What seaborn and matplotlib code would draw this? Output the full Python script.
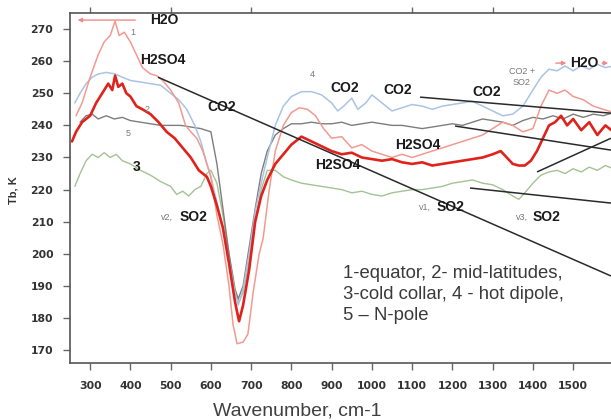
import matplotlib
matplotlib.use("Agg")
import matplotlib.pyplot as plt
import seaborn as sns
import pandas as pd

# ---------------- data ----------------
wn1 = [265, 280, 300, 320, 335, 350, 362, 372, 385, 400, 415, 430, 450, 465, 480, 500, 520, 537, 550, 565, 580,
       600, 615, 630, 645, 655, 665, 680, 692, 705, 720, 730, 745, 760, 780, 800, 820, 840, 860, 880, 900, 925,
       950, 975, 1000, 1025, 1050, 1075, 1100, 1125, 1150, 1175, 1200, 1225, 1250, 1275, 1300, 1325, 1350, 1375,
       1400, 1420, 1440, 1460, 1480, 1500, 1525, 1550, 1575, 1600]
t1 = [243, 247, 255, 262, 266, 268, 272.5, 268, 269, 266, 262, 258, 256, 255.5, 254, 251, 247, 240, 238, 236, 232,
      224, 212, 203, 190, 178, 172, 172.5, 175, 188, 200, 205, 220, 232, 240, 244, 245.5, 245, 243, 239, 236, 236.5,
      233, 234, 232, 231, 230, 231, 230, 231, 232, 233, 234, 235, 236, 237, 239, 241, 240, 238,
      239, 246, 251, 250, 251, 249, 248, 246, 245, 244]

wn2 = [255, 265, 280, 300, 315, 330, 345, 355, 362, 370, 380, 390, 400, 415, 430, 450, 470, 490, 510, 530, 550, 570,
       590, 600, 615, 630, 645, 660, 670, 680, 695, 710, 725, 740, 760, 780, 800, 825, 850, 875, 900, 925, 950, 975,
       1000, 1025, 1050, 1075, 1100, 1125, 1150, 1175, 1200, 1225, 1250, 1275, 1300, 1320, 1335, 1350, 1365, 1380,
       1395, 1410, 1425, 1440, 1455, 1470, 1485, 1500, 1520, 1540, 1560, 1580, 1600]
t2 = [235, 238, 241, 243, 247, 250, 253, 251, 255.5, 252, 253, 250, 249, 246, 245, 243.5, 241, 238, 236, 233, 230, 226,
      224, 221, 215, 208, 197, 185, 179, 184, 195, 210, 218, 223, 228, 231, 234, 236.5, 235, 233.5, 232, 231, 231.5, 230,
      229.5, 229, 229.5, 228.5, 228, 228.5, 227.5, 228, 228.5, 229, 229.5, 230, 231, 232, 230, 228, 227.5, 227.5,
      229, 232, 236, 240, 241, 243, 240, 242, 238.5, 241, 237, 240, 238]

wn3 = [262, 275, 290, 305, 320, 335, 350, 365, 380, 400, 425, 450, 475, 500, 515, 530, 545, 560, 575, 590, 600, 615,
       630, 645, 660, 670, 680, 695, 710, 725, 740, 760, 780, 800, 825, 850, 875, 900, 925, 950, 975, 1000, 1025, 1050,
       1075, 1100, 1125, 1150, 1175, 1200, 1225, 1250, 1275, 1300, 1325, 1350, 1365, 1380, 1400, 1420, 1440, 1460,
       1480, 1500, 1520, 1540, 1560, 1580, 1600]
t3 = [221, 225, 229, 231, 230, 231.5, 230, 231, 229, 228, 226, 224.5, 222.5, 221, 218.5, 219.5, 218, 220, 221, 225, 226,
      222, 212, 200, 188, 185, 188, 198, 210, 220, 226, 226, 224, 223, 222, 221.5, 221, 220.5, 220, 219, 219.5, 218.5,
      218, 219, 219.5, 220, 220, 220.5, 221, 222, 222.5, 223, 222, 221.5, 220, 218, 217, 219, 222, 224.5, 225.5, 226,
      225, 226.5, 225.5, 227, 226, 227.5, 226.5]

wn4 = [262, 275, 290, 305, 320, 340, 362, 380, 400, 425, 450, 475, 500, 520, 540, 560, 575, 590, 600, 615, 630, 645,
       660, 668, 680, 695, 710, 725, 740, 760, 780, 800, 825, 850, 875, 900, 915, 930, 950, 965, 985, 1000, 1025, 1050,
       1075, 1100, 1125, 1150, 1175, 1200, 1225, 1250, 1275, 1300, 1325, 1350, 1375, 1400, 1420, 1440, 1460, 1480,
       1500, 1520, 1540, 1560, 1580, 1600]
t4 = [247, 250, 253, 255, 256, 256.5, 256, 255, 254, 253.5, 253, 252.5, 250, 248, 245, 240, 235, 228, 224, 216, 208, 198,
      188, 184, 189, 200, 213, 222, 230, 240, 246, 249, 250.5, 250.5, 249.5, 247, 244.5, 246, 248.5, 245, 247, 249.5,
      247, 244.5, 245.5, 246.5, 246, 245, 246, 246.5, 247, 247.5, 246, 244.5, 243, 243.5, 246, 251, 255, 257.5, 257,
      258.5, 257, 258.5, 257.5, 259, 258, 258.5]

wn5 = [275, 290, 305, 320, 340, 360, 380, 400, 425, 450, 475, 500, 525, 550, 575, 600, 615, 630, 645, 660, 668, 680,
       695, 710, 725, 740, 760, 780, 800, 825, 850, 875, 900, 925, 950, 975, 1000, 1025, 1050, 1075, 1100, 1125, 1150,
       1175, 1200, 1225, 1250, 1275, 1300, 1325, 1350, 1375, 1400, 1425, 1450, 1475, 1500, 1525, 1550, 1575, 1600]
t5 = [241, 243, 243.5, 242, 243, 242, 242.5, 241.5, 241, 240.5, 240, 240, 240, 239.5, 239, 238, 228, 214, 200, 189, 186,
      190, 202, 214, 225, 232, 237, 239, 240.5, 240.5, 241, 240.5, 240.5, 241, 240, 240.5, 241, 240.5, 240, 240, 239.5,
      239, 239.5, 240, 240.5, 240, 241, 242, 241.5, 241, 240, 241.5, 242.5, 242, 243, 242, 243.5, 242.5, 243.5, 243, 244]

x_ticks = [300, 400, 500, 600, 700, 800, 900, 1000, 1100, 1200, 1300, 1400, 1500]
top_ticks = [300, 500, 700, 1100, 1300, 1500]
y_ticks = [170, 180, 190, 200, 210, 220, 230, 240, 250, 260, 270]

legend_text = "1-equator, 2- mid-latitudes,\n3-cold collar, 4 - hot dipole,\n5 \u2013 N-pole"

# ---------------- figure ----------------
sns.set_style("ticks")
plt.rcParams['font.family'] = ['DejaVu Sans']

fig = plt.figure(figsize=(6.11, 4.2), dpi=100)
ax = fig.add_axes([70 / 611, 57 / 420, 541 / 611, 350 / 420])

series = [
    (wn3, t3, "#a3c393", 1.0),
    (wn5, t5, "#7d7d7d", 1.0),
    (wn4, t4, "#a9c4e4", 1.1),
    (wn1, t1, "#f29a90", 1.1),
    (wn2, t2, "#e0221c", 1.9),
]
for wn, t, c, lw in series:
    df = pd.DataFrame({"wn": wn, "T": t})
    sns.lineplot(data=df, x="wn", y="T", color=c, linewidth=lw, ax=ax, estimator=None)

ax.set_xlim(250, 1594)
ax.set_ylim(166, 275)
ax.set_xticks(x_ticks)
ax.set_yticks(y_ticks)

tick_font = dict(family='DejaVu Sans', weight='bold', size=7.8)
ax.set_xticklabels([str(v) for v in x_ticks], fontdict=tick_font, color="#333333")
ax.set_yticklabels([str(v) for v in y_ticks], fontdict=tick_font, color="#333333")
ax.tick_params(axis='x', direction='out', length=5, width=1, color="#666666", pad=8)
ax.tick_params(axis='y', direction='out', length=5, width=1, color="#666666", pad=7)

for s in ["left", "bottom", "top"]:
    ax.spines[s].set_color("#555555")
    ax.spines[s].set_linewidth(1.2)
ax.spines["right"].set_visible(False)

sec = ax.secondary_xaxis('top')
sec.set_xticks(top_ticks)
sec.set_xticklabels([])
sec.tick_params(direction='out', length=4, width=1, color="#666666")
sec.spines['top'].set_visible(False)

ax.set_xlabel("Wavenumber, cm-1", fontsize=14, color="#404040", family='Liberation Sans')
ax.xaxis.set_label_coords(0.42, -0.112)
ax.set_ylabel("Tb, K", fontsize=8, color="#333333", family='Liberation Sans', weight='bold')
ax.yaxis.set_label_coords(-0.096, 0.494)

# ---------------- annotations ----------------
bold = dict(family='Liberation Sans', weight='bold', color='#1a1a1a', fontsize=10)
small = dict(family='Liberation Sans', color='#777777', fontsize=6.5)

ax.annotate("", xy=(262, 272.8), xytext=(419, 272.8),
            arrowprops=dict(arrowstyle='-|>', color='#f08a8a', lw=1.0, mutation_scale=6))
ax.text(449, 272.8, "H2O", ha='left', va='center', **bold)
ax.text(406, 268.8, "1", ha='center', va='center', **small)
ax.text(424, 260.3, "H2SO4", ha='left', va='center', **bold)
ax.text(627, 245.7, "CO2", ha='center', va='center', **bold)
ax.text(441, 244.8, "2", ha='center', va='center', **small)
ax.text(394, 237.6, "5", ha='center', va='center', **small)
ax.text(416, 227.0, "3", ha='center', va='center', **bold)
ax.text(491, 211.4, "v2,", ha='center', va='center', **small)
ax.text(523, 211.4, "SO2", ha='left', va='center', **bold)
ax.text(851, 255.7, "4", ha='center', va='center', **small)
ax.text(933, 251.6, "CO2", ha='center', va='center', **bold)
ax.text(1065, 251.0, "CO2", ha='center', va='center', **bold)
ax.text(1286, 250.4, "CO2", ha='center', va='center', **bold)
ax.text(1114, 233.9, "H2SO4", ha='center', va='center', **bold)
ax.text(916, 227.6, "H2SO4", ha='center', va='center', **bold)
ax.text(1132, 214.5, "v1,", ha='center', va='center', **small)
ax.text(1194, 214.5, "SO2", ha='center', va='center', **bold)
ax.text(1373, 211.4, "v3,", ha='center', va='center', **small)
ax.text(1433, 211.4, "SO2", ha='center', va='center', **bold)
ax.text(1372, 255.0, "CO2 +\nSO2", ha='center', va='center', linespacing=1.3, **small)
ax.text(1527, 259.4, "H2O", ha='center', va='center', **bold)
ax.annotate("", xy=(1490, 259.4), xytext=(1450, 259.4),
            arrowprops=dict(arrowstyle='-|>', color='#f08a8a', lw=1.0, mutation_scale=6))
ax.annotate("", xy=(1594, 259.4), xytext=(1565, 259.4),
            arrowprops=dict(arrowstyle='-|>', color='#f08a8a', lw=1.0, mutation_scale=6))

pointer_lines = [
    ((468.6, 255.0), (1594, 193.1)),
    ((1119.6, 248.8), (1594, 243.8)),
    ((1206.5, 239.8), (1594, 232.3)),
    ((1410.2, 225.5), (1594, 236.0)),
    ((1243.8, 220.5), (1594, 215.8)),
]
for (x0, y0), (x1, y1) in pointer_lines:
    ax.plot([x0, x1], [y0, y1], color='#2a2a2a', lw=1.1, solid_capstyle='butt')

ax.text(928, 187.4, legend_text, ha='left', va='center', fontsize=13.3, color='#3a3a3a',
        family='Liberation Sans', linespacing=1.3)

fig.savefig("out.png", dpi=100)
